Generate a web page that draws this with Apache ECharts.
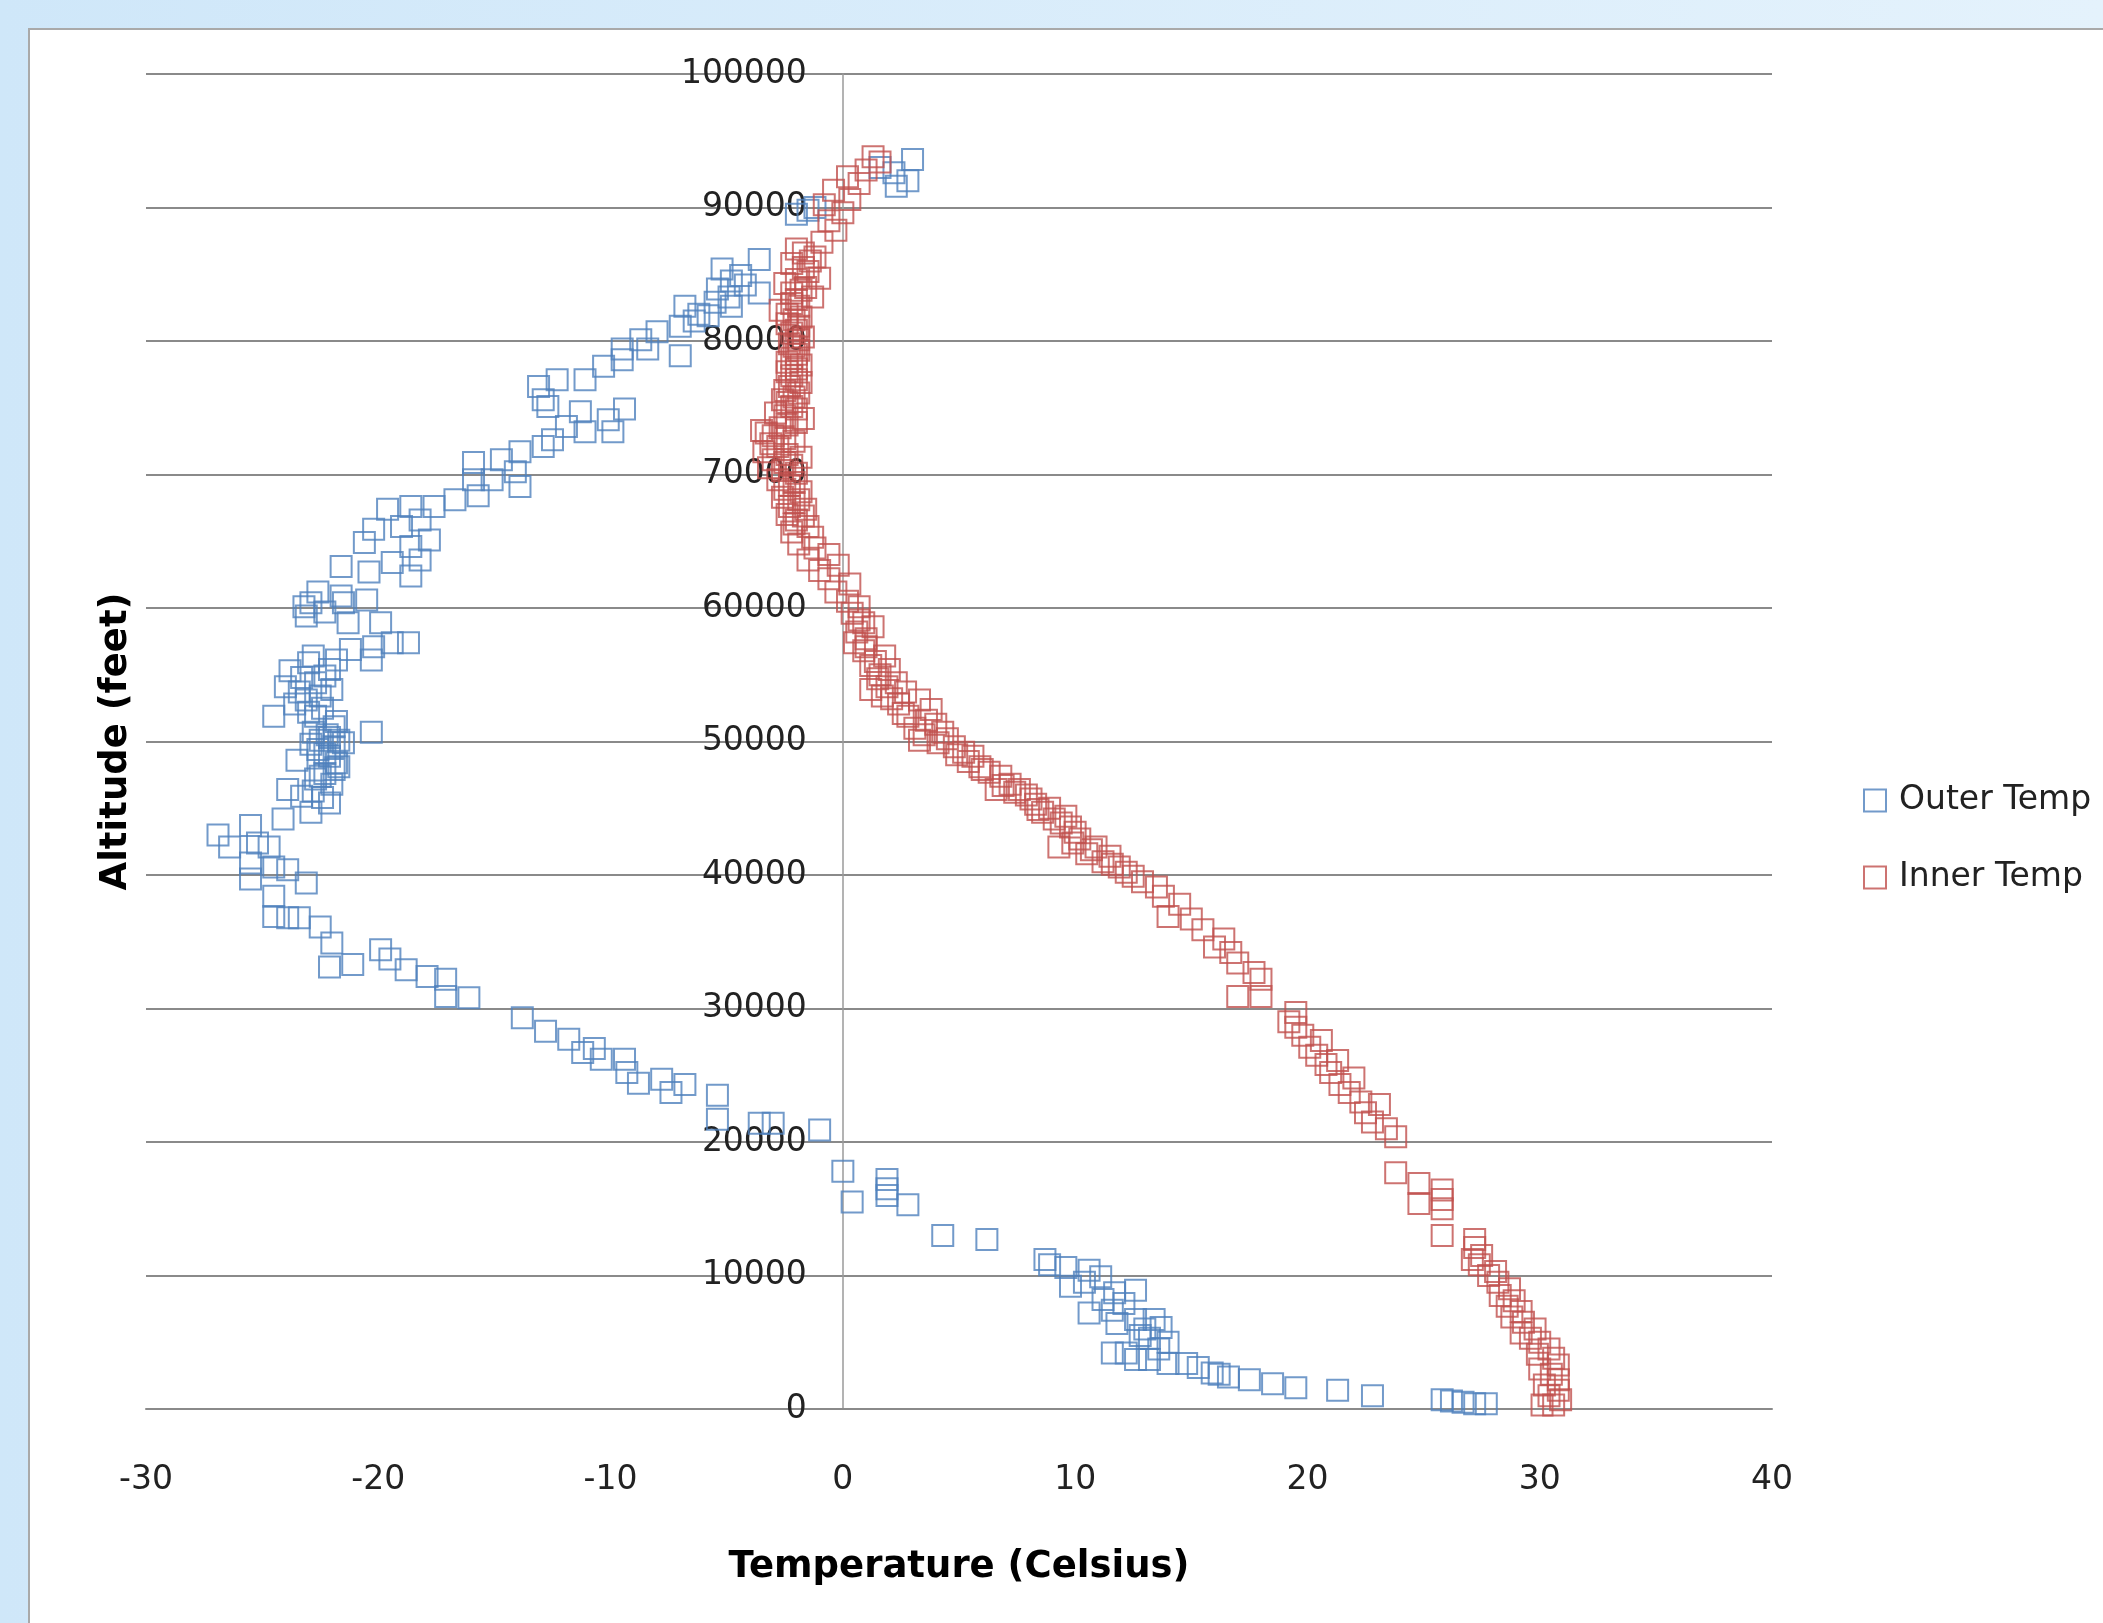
<!DOCTYPE html>
<html><head><meta charset="utf-8">
<script src="https://cdn.jsdelivr.net/npm/echarts@6/dist/echarts.min.js"></script>
<style>
html,body{margin:0;padding:0;width:2103px;height:1623px;overflow:hidden;background:linear-gradient(to right,#cfe7f9,#e4f2fc);}
#box{position:absolute;left:28px;top:28px;right:0;bottom:0;background:#fff;border-left:2px solid #a9a9a9;border-top:2px solid #a9a9a9;}
#chart{position:absolute;left:0;top:0;width:2103px;height:1623px;}
</style></head>
<body><div id="box"></div><div id="chart"></div>
<script>
// Axis ticks
const xTicks = [-30, -20, -10, 0, 10, 20, 30, 40];
const yTicks = [0, 10000, 20000, 30000, 40000, 50000, 60000, 70000, 80000, 90000, 100000];
const seriesNames = ['Outer Temp', 'Inner Temp'];

// Outer Temp: [temperature (C), altitude (ft)]
const outerPoints = [
[27.7,400],[27.2,400],[26.7,500],[26.2,600],[25.8,700],[22.8,1000],[21.3,1400],[19.5,1600],[18.5,1900],[17.5,2200],
[16.6,2400],[16.2,2600],[15.9,2700],[15.3,3100],[14.8,3400],[14.0,3400],[13.2,3700],[12.6,3700],[11.6,4200],[12.2,4200],
[13.6,4500],[14.0,5000],[13.2,5300],[12.8,5500],[13.7,6100],[13.0,6000],[12.6,6700],[13.4,6700],[11.8,6400],[10.6,7200],
[11.6,7400],[12.1,7900],[11.2,8200],[11.7,8700],[12.6,8900],[9.8,9200],[10.4,9500],[11.1,9900],[10.6,10400],[9.6,10600],
[8.7,11200],[8.9,10800],[6.2,12700],[4.3,13000],[2.8,15300],[1.9,16000],[1.9,16500],[1.9,17200],[0.4,15500],[0.0,17800],
[-1.0,20900],[-3.0,21400],[-3.6,21400],[-5.4,21700],[-5.4,23500],[-6.8,24300],[-7.4,23700],[-7.8,24700],[-8.8,24400],[-9.3,25200],
[-9.4,26200],[-10.4,26200],[-10.7,27000],[-11.2,26700],[-11.8,27700],[-12.8,28300],[-13.8,29300],[-16.1,30800],[-17.1,30900],[-17.1,32200],
[-17.9,32400],[-18.8,32900],[-19.5,33700],[-19.9,34400],[-21.1,33300],[-22.1,33100],[-22.0,34900],[-22.5,36100],[-23.4,36800],[-23.9,36800],
[-24.5,36900],[-24.5,38400],[-23.1,39400],[-25.5,39700],[-23.9,40400],[-24.5,40600],[-25.5,40900],[-24.7,42100],[-26.4,42100],[-25.2,42400],
[-26.9,43000],[-25.5,43700],[-24.1,44200],[-22.9,44700],[-22.1,45400],[-23.3,45900],[-23.9,46400],[-22.7,47200],[-22.3,47600],[-21.9,47900],
[-21.7,48100],[-22.1,48900],[-23.5,48600],[-22.6,49400],[-21.9,49600],[-22.5,50100],[-21.7,50100],[-20.3,50700],[-22.2,50500],[-21.9,51100],
[-22.7,51900],[-24.5,51900],[-22.4,52500],[-23.1,53100],[-22.0,53900],[-22.7,54400],[-24.0,54100],[-23.3,54800],[-22.1,55400],[-23.0,55900],
[-21.8,56100],[-20.3,56100],[-21.2,56900],[-20.2,57100],[-18.7,57400],[-19.4,57400],[-19.9,58900],[-21.3,58900],[-22.3,59700],[-23.1,59400],
[-22.9,60400],[-21.5,60400],[-20.5,60600],[-23.2,60100],[-21.6,60900],[-22.6,61200],[-18.6,62400],[-20.4,62700],[-21.6,63100],[-19.4,63400],
[-18.2,63600],[-18.6,64600],[-20.6,64900],[-17.8,65100],[-20.2,65900],[-19.0,66100],[-18.2,66600],[-19.6,67400],[-18.6,67600],[-17.6,67600],
[-16.7,68100],[-15.7,68400],[-13.9,69100],[-15.9,69600],[-15.1,69600],[-14.1,70200],[-15.9,70900],[-14.7,71100],[-13.9,71700],[-12.9,72100],
[-12.5,72600],[-11.1,73200],[-9.9,73200],[-11.9,73600],[-10.1,74100],[-11.3,74700],[-9.4,74900],[-12.7,75100],[-12.9,75600],[-13.1,76600],
[-12.3,77100],[-11.1,77100],[-10.3,78100],[-9.5,78600],[-9.5,79400],[-8.4,79400],[-7.0,78900],[-8.7,80100],[-8.0,80700],[-7.0,81100],
[-5.8,81900],[-6.8,82600],[-4.8,82600],[-5.4,83900],[-3.6,83600],[-4.4,84900],[-5.2,85400],[-3.6,86100],[-2.0,89500],[-1.5,89800],
[-1.2,90000],[1.6,93000],[2.3,91600],[2.8,92000],[3.0,93600],[2.2,92600],
[-22.4,45800],[-22.8,46300],[-22.0,46800],[-22.5,47400],[-21.8,48400],[-22.3,49100],[-22.9,49800],[-21.5,49900],[-22.1,50300],[-22.8,50700],
[-21.8,51500],[-23.0,52200],[-23.6,52800],[-22.5,53400],[-23.4,53700],[-22.3,54900],[-23.8,55300],[-22.8,56400],
[-6.2,82000],[-5.5,82900],[-4.9,83300],[-4.2,84200],[-4.8,84500],[-6.4,81500]
];

// Inner Temp: [temperature (C), altitude (ft)]
const innerPoints = [
[30.1,300],[30.6,300],[30.9,700],[30.4,1000],[30.8,1400],[30.2,1800],[30.8,2200],[30.5,2600],[30.0,3000],[30.8,3300],
[30.6,3800],[29.9,4100],[30.4,4500],[30.0,5000],[29.6,5300],[29.2,5700],[29.8,6000],[29.3,6500],[28.8,6900],[29.2,7300],
[28.6,7700],[28.9,8100],[28.3,8500],[28.7,9000],[28.2,9500],[27.8,10000],[28.1,10300],[27.4,10800],[27.1,11200],[27.5,11500],
[27.2,12100],[27.2,12700],[25.8,13000],[24.8,15400],[25.8,15000],[25.8,15700],[25.8,16400],[24.8,16900],[23.8,17700],[23.8,20400],
[23.4,21000],[22.8,21500],[22.5,22200],[23.1,22800],[22.3,23000],[21.8,23700],[21.4,24300],[22.0,24800],[21.0,25200],[20.8,25800],
[21.3,26100],[20.4,26500],[20.1,27100],[20.6,27600],[19.8,28000],[19.5,28600],[19.2,29000],[19.5,29700],[18.0,30900],[17.0,30900],
[18.0,32200],[17.7,32700],[17.0,33400],[16.7,34200],[16.0,34600],[16.4,35200],[15.5,35900],[15.0,36700],[14.0,36900],[14.5,37800],
[13.8,38400],[13.5,39100],[12.9,39500],[12.5,39900],[12.2,40200],[11.9,40600],[11.2,41000],[11.5,41400],[10.5,41600],[10.9,42100],
[9.3,42100],[10.2,42700],[10.0,43200],[9.8,43600],[9.1,44200],[9.6,44400],[8.6,44700],[8.9,45000],[8.3,45300],[8.1,45700],
[7.9,46000],[7.6,46400],[6.6,46400],[7.2,46800],[6.8,47400],[6.3,47700],[5.9,48100],[5.6,48900],[5.2,49200],[4.8,49600],
[3.3,50100],[4.5,50200],[4.3,50700],[4.0,51300],[3.6,51600],[2.8,51900],[3.8,52400],[2.4,52800],[3.3,53100],[1.7,53400],
[2.7,53700],[1.2,53900],[2.3,54400],[1.6,55000],[2.0,55400],[1.4,56000],[1.8,56400],[1.0,57100],[1.0,57700],[0.6,58200],
[1.3,58600],[0.7,59100],[0.7,60100],[0.2,60500],[-0.3,61200],[0.3,61800],[-0.6,62200],[-1.0,62800],[-0.2,63200],[-1.5,63600],
[-0.6,64000],[-1.2,64500],[-1.9,64800],[-1.3,65300],[-2.2,65700],[-1.5,66100],[-2.0,66600],[-2.4,67000],[-1.6,67400],[-2.1,67900],
[-2.6,68300],[-1.8,68700],[-2.3,69200],[-2.8,69600],[-2.0,70100],[-3.2,70500],[-2.5,70900],[-1.8,71300],[-3.4,71700],[-2.8,72100],
[-2.1,72500],[-3.0,72900],[-3.5,73300],[-2.4,73700],[-1.7,74200],[-2.9,74600],[-2.2,75100],[-2.6,75600],[-1.9,76100],[-2.3,76600],
[-2.0,77100],[-2.4,77700],[-1.8,78200],[-2.2,78700],[-1.9,79300],[-2.3,79800],[-1.7,80300],[-2.0,80800],[-2.4,81300],[-1.8,81800],
[-2.7,82300],[-2.2,82800],[-1.3,83300],[-1.8,83800],[-2.5,84300],[-1.0,84700],[-1.5,85200],[-2.2,85800],[-1.2,86300],[-2.0,86900],
[-0.9,87400],[-0.3,88300],[-0.6,89000],[0.0,89600],[-0.8,90200],[0.3,90600],[-0.4,91300],[0.7,91800],[0.2,92300],[1.0,92800],
[1.6,93400],[1.3,93800],
[-2.1,66300],[-1.7,66900],[-2.3,67600],[-1.9,68100],[-2.5,68900],[-2.1,69400],[-2.6,70300],[-2.2,70700],[-3.0,71100],[-2.4,71500],
[-3.1,72300],[-2.5,72700],[-3.3,73100],[-2.7,73500],[-2.0,73900],[-2.5,74400],[-2.0,74900],[-2.4,75400],[-2.1,75800],[-2.5,76300],
[-1.8,76900],[-2.2,77400],[-2.0,77900],[-2.4,78400],[-2.0,79000],[-2.1,79600],[-1.9,80100],[-2.2,80600],[-1.9,81100],[-2.1,81600],
[-2.4,82000],[-1.9,82600],[-2.0,83100],[-2.2,83600],[-1.6,84000],[-2.0,84600],[-1.7,85500],[-1.4,86000],[-1.7,86600],
[11.6,40800],[10.7,41900],[9.9,42400],[9.4,43900],[8.4,44900],[7.4,46200],[6.9,46700],[6.0,47900],[5.4,48500],[4.9,49000],
[4.1,49900],[3.5,50500],[3.1,51000],[2.6,52100],[2.1,53200],[1.9,54100],[1.5,54700],[1.2,55700],[0.9,56800],[0.5,57400],
[0.4,59600],[0.9,58900]
];

const outerColor = '#4f81bd';
const innerColor = '#c0504d';

const gridLeft = 146, gridTop = 74, gridWidth = 1626, gridHeight = 1335;
const xMin = xTicks[0], xMax = xTicks[xTicks.length - 1];
// shift the vertical axis (labels + line) to where temperature = 0, as in the original
const yAxisOffset = -gridWidth * (0 - xMin) / (xMax - xMin);

const chart = echarts.init(document.getElementById('chart'));
const gridColor = '#8a8a8a';
const font = 'DejaVu Sans';
chart.setOption({
  backgroundColor: 'transparent',
  animation: false,
  textStyle: { fontFamily: font },
  grid: { left: gridLeft, top: gridTop, width: gridWidth, height: gridHeight, containLabel: false, outerBoundsMode: 'none' },
  legend: {
    orient: 'vertical', left: 1858, top: 779,
    itemWidth: 22, itemHeight: 22, itemGap: 44, icon: 'rect',
    textStyle: { fontFamily: font, fontSize: 33, color: '#222', lineHeight: 24, padding: [0, 0, 0, 8] },
    data: seriesNames
  },
  xAxis: {
    type: 'value', min: xMin, max: xMax, interval: 10,
    splitLine: { show: false }, axisTick: { show: false },
    axisLine: { show: true, onZero: true, lineStyle: { color: gridColor, width: 2 } },
    axisLabel: { fontFamily: font, fontSize: 33, color: '#222', margin: 55, formatter: v => String(v) },
    name: 'Temperature (Celsius)', nameLocation: 'middle', nameGap: 140,
    nameTextStyle: { fontFamily: font, fontSize: 37, fontWeight: 'bold', color: '#000' }
  },
  yAxis: {
    type: 'value', min: yTicks[0], max: yTicks[yTicks.length - 1], interval: 10000,
    offset: yAxisOffset,
    splitLine: { show: true, lineStyle: { color: gridColor, width: 2 } },
    axisTick: { show: false },
    axisLine: { show: true, onZero: false, lineStyle: { color: '#9a9a9a', width: 1.5 } },
    axisLabel: { fontFamily: font, fontSize: 33, color: '#222', margin: 36, formatter: v => String(v) },
    name: 'Altitude (feet)', nameLocation: 'middle', nameGap: 708, nameRotate: 90,
    nameTextStyle: { fontFamily: font, fontSize: 37, fontWeight: 'bold', color: '#000' }
  },
  series: [
    { name: seriesNames[0], type: 'scatter', data: outerPoints, symbol: 'rect', symbolSize: 21,
      itemStyle: { color: 'rgba(255,255,255,0)', borderColor: outerColor, borderWidth: 2 } },
    { name: seriesNames[1], type: 'scatter', data: innerPoints, symbol: 'rect', symbolSize: 21,
      itemStyle: { color: 'rgba(255,255,255,0)', borderColor: innerColor, borderWidth: 2 } }
  ]
});
</script></body></html>
